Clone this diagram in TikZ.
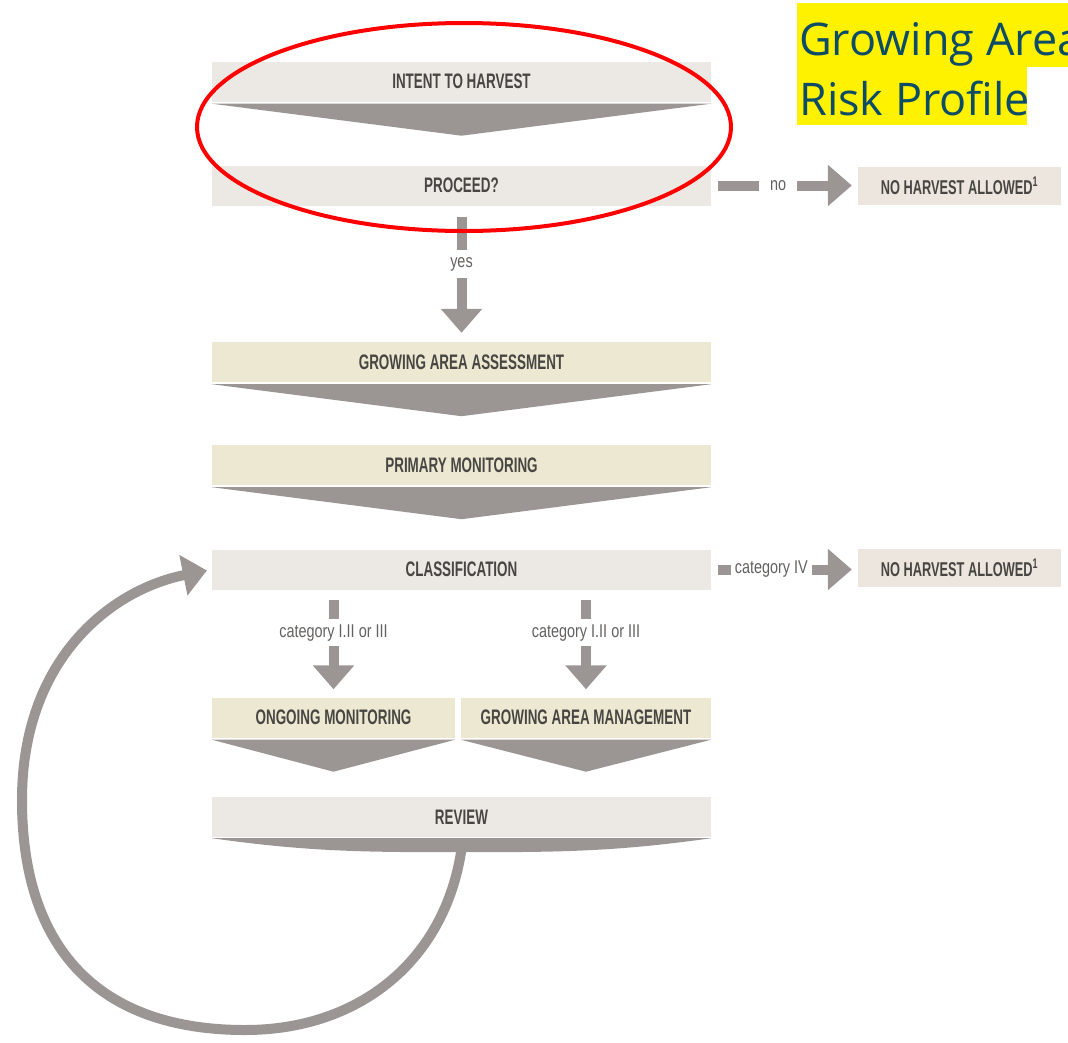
\documentclass[tikz,border=0pt]{standalone}
\usepackage{fontspec}
\usepackage{xcolor}
\usepackage{tikz}
\usetikzlibrary{arrows.meta,calc,positioning}
\setmainfont{Liberation Sans}
\newfontfamily\barfont{Liberation Sans}[FakeStretch=0.64]
\newfontfamily\lblfont{Liberation Sans}[FakeStretch=0.78]
\newfontfamily\titlefont{Open Sans}
\definecolor{barlight}{RGB}{236,232,228}
\definecolor{barbeige}{RGB}{237,232,210}
\definecolor{boxtan}{RGB}{237,230,222}
\definecolor{chevgray}{RGB}{155,150,148}
\definecolor{txtgray}{RGB}{72,70,67}
\definecolor{lblgray}{RGB}{100,98,96}
\definecolor{titleblue}{RGB}{12,76,102}

\begin{document}
\begin{tikzpicture}[x=1pt,y=-1pt,
  bar/.style={minimum height=40pt,inner sep=0pt,text=txtgray,font=\barfont\bfseries\fontsize{21}{24}\selectfont},
  lightbar/.style={bar,fill=barlight,minimum width=499pt},
  beigebar/.style={bar,fill=barbeige},
  stopbox/.style={bar,fill=boxtan,minimum width=203pt,minimum height=38pt,font=\barfont\bfseries\fontsize{20}{23}\selectfont},
  chev/.style={fill=chevgray},
  flow/.style={draw=chevgray,line width=10pt,-{Triangle[length=24pt,width=40pt]}},
  backflow/.style={draw=chevgray,line width=10pt,-{Triangle[length=24pt,width=40pt]}},
  gap/.style={fill=white,inner sep=7pt,text=lblgray,font=\lblfont\fontsize{18.5}{21}\selectfont}]
  \clip (0,0) rectangle (1068,1042);

  % bars
  \node[lightbar] (intent) at (461.5,81.5) {INTENT TO HARVEST};
  \node[lightbar] (proceed) at (461.5,185.5) {PROCEED?};
  \node[beigebar,minimum width=499pt] (assess) at (461.5,362) {GROWING AREA ASSESSMENT};
  \node[beigebar,minimum width=499pt] (primary) at (461.5,465) {PRIMARY MONITORING};
  \node[lightbar] (class) at (461.5,569.5) {CLASSIFICATION};
  \node[beigebar,minimum width=243pt] (ongoing) at (333.5,717.5) {ONGOING MONITORING};
  \node[beigebar,minimum width=250pt] (gam) at (586,717.5) {GROWING AREA MANAGEMENT};
  \node[lightbar] (review) at (461.5,817) {REVIEW};
  \node[stopbox] (stop1) at (959.5,186) {NO HARVEST ALLOWED\textsuperscript{1}};
  \node[stopbox] (stop2) at (959.5,568) {NO HARVEST ALLOWED\textsuperscript{1}};

  % chevrons under the bars
  \foreach \n in {intent,assess,primary,ongoing,gam}
    \fill[chev] ([yshift=-2pt]\n.south west) -- ([yshift=-2pt]\n.south east) -- ([yshift=-34pt]\n.south) -- cycle;
  \fill[chev] ([yshift=-1pt]review.south west) -- ([yshift=-1pt]review.south east)
    to[out=188,in=0] ([yshift=-15pt]review.south) to[out=180,in=-8] ([yshift=-1pt]review.south west) -- cycle;

  % arrows
  \draw[flow,shorten <=7pt,shorten >=6pt] (proceed.east) -- node[gap,pos=0.456,inner xsep=11pt] {no} (proceed.east -| stop1.west);
  \draw[flow,shorten <=7pt,shorten >=6pt] (class.east) -- node[gap,pos=0.41,inner xsep=4pt] {category IV} (class.east -| stop2.west);
  \draw[flow,shorten <=11pt,shorten >=9pt] (proceed.south) -- node[gap,pos=0.43] {yes} (assess.north);
  \draw[flow,shorten <=10pt,shorten >=8pt] (ongoing.north |- class.south) -- node[gap,pos=0.40,inner ysep=5pt] {category I.II or III} (ongoing.north);
  \draw[flow,shorten <=10pt,shorten >=8pt] (gam.north |- class.south) -- node[gap,pos=0.40,inner ysep=5pt] {category I.II or III} (gam.north);

  % review back to classification
  \coordinate (loopstart) at ([yshift=-12pt]review.south);
  \draw[backflow,shorten >=5pt] (loopstart) .. controls (445,960) and (360,1030) .. (245,1030)
    .. controls (100,1030) and (22,950) .. (22,800)
    .. controls (22,660) and (110,590) .. (class.west);

  % annotation
  \draw[red,line width=4pt] (464,127) ellipse [x radius=267,y radius=104];
  \fill[yellow] (797,3) rectangle (1068,67);
  \fill[yellow] (797,67) rectangle (1027,125);
  \node[anchor=base west,inner sep=0pt,text=titleblue,font=\titlefont\fontsize{45}{50}\selectfont] (title1) at (799,55) {Growing Area};
  \node[anchor=base west,inner sep=0pt,text=titleblue,font=\titlefont\fontsize{45}{50}\selectfont] (title2) at (799,115) {Risk Profile};
\end{tikzpicture}
\end{document}
